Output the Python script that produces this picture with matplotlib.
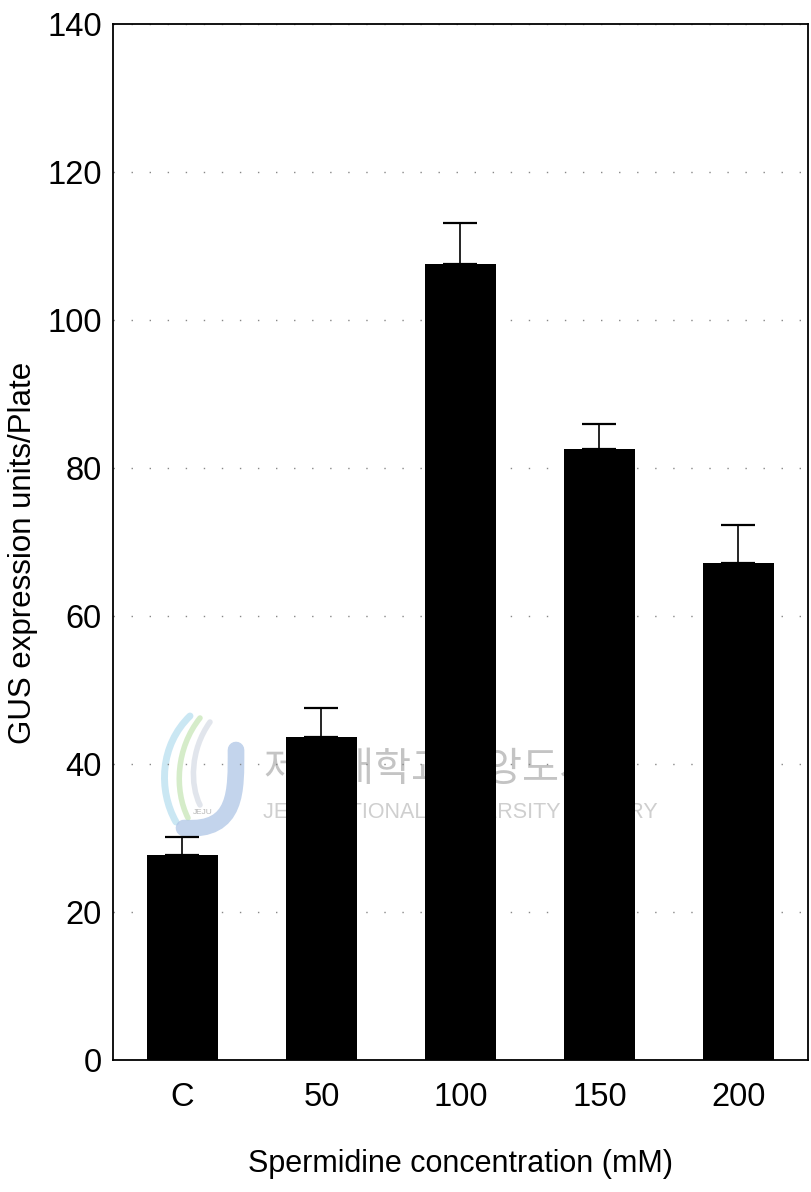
import matplotlib
matplotlib.use("Agg")
import matplotlib.pyplot as plt
from matplotlib.path import Path
from matplotlib.patches import PathPatch
from matplotlib.transforms import Affine2D

# GUS expression at each spermidine concentration (mean and upper SE)
categories = ["C", "50", "100", "150", "200"]
gus_units = [27.7, 43.6, 107.6, 82.6, 67.2]
gus_err = [2.5, 4.0, 5.5, 3.4, 5.1]
y_ticks = [0, 20, 40, 60, 80, 100, 120, 140]

plt.rcParams["font.family"] = ["Liberation Sans", "DejaVu Sans"]

W, H = 812, 1192
fig = plt.figure(figsize=(W / 100, H / 100), dpi=100)
ax = fig.add_axes([113 / W, 1 - 1060 / H, 695 / W, 1036 / H])

# pixel coordinates measured from the top-left corner of the figure
px = Affine2D().scale(1 / W, -1 / H).translate(0, 1) + fig.transFigure

x = list(range(len(categories)))

# faint library emblem and watermark behind the bars
def stroke(verts, color, lw):
    codes = [Path.MOVETO] + [Path.CURVE4] * (len(verts) - 1)
    ax.add_patch(PathPatch(Path(verts, codes), transform=px, fill=False,
                           edgecolor=color, linewidth=lw, capstyle="round",
                           zorder=0, clip_on=False, alpha=0.75))

stroke([(190, 716), (160, 745), (158, 790), (176, 822)], "#b9dff0", 5)
stroke([(200, 718), (176, 748), (174, 790), (188, 818)], "#c8e6b8", 4)
stroke([(210, 722), (190, 750), (190, 785), (200, 805)], "#d8dde6", 4)
stroke([(236, 750), (236, 790), (238, 832), (184, 828)], "#afc6e6", 12)
fig.text(203 / W, 1 - 812 / H, "JEJU", transform=fig.transFigure, ha="center",
         va="center", fontsize=6, color="#b8b8b8", zorder=0)

ax.text(263 / W, 1 - 770 / H, "제주대학교중앙도서관", transform=fig.transFigure,
        ha="left", va="center", fontsize=29, color="#c4c4c4",
        family=["Noto Sans CJK KR", "DejaVu Sans"], zorder=0)
ax.text(263 / W, 1 - 812 / H, "JEJU NATIONAL UNIVERSITY LIBRARY", transform=fig.transFigure,
        ha="left", va="center", fontsize=15.5, color="#cfcfcf", zorder=0)

ax.bar(x, gus_units, width=0.51, color="black", zorder=3,
       yerr=[[0] * len(gus_err), gus_err],
       error_kw=dict(ecolor="black", elinewidth=1.2, capsize=12, capthick=1.6, zorder=2))

ax.set_xlim(-0.5, len(categories) - 0.5)
ax.set_ylim(0, 140)
ax.set_yticks(y_ticks)
ax.set_xticks(x)
ax.set_xticklabels(categories)
ax.tick_params(axis="both", length=0, labelsize=23.5, pad=8)
ax.tick_params(axis="x", pad=16)

ax.yaxis.grid(True, linestyle=(0, (1, 12)), color="#888888", linewidth=1.0)
ax.set_axisbelow(True)

for side in ["left", "right", "top", "bottom"]:
    ax.spines[side].set_linewidth(1.3)
    ax.spines[side].set_color("black")

ax.set_xlabel("Spermidine concentration (mM)", fontsize=22)
ax.xaxis.set_label_coords(0.5, -(1149 - 1060) / 1036)
ax.set_ylabel("GUS expression units/Plate", fontsize=22.5)
ax.yaxis.set_label_coords(-(113 - 38) / 695, (1060 - 553) / 1036)

fig.savefig("out.png", dpi=100, facecolor="white")
